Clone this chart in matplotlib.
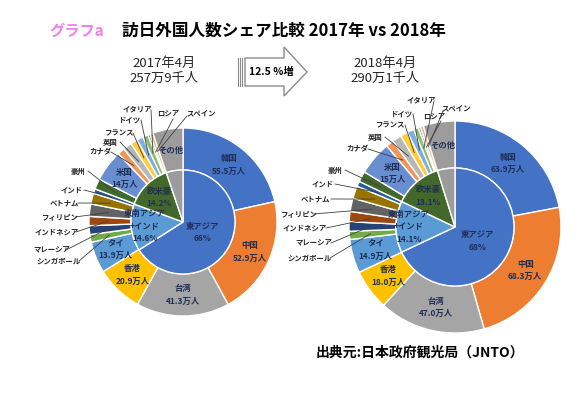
import numpy as np
import matplotlib.pyplot as plt
from matplotlib.patches import Polygon

plt.rcParams['font.family'] = ['Noto Sans CJK JP', 'DejaVu Sans']

# data (万人)
countries = ['韓国', '中国', '台湾', '香港', 'タイ', 'シンガポール', 'マレーシア', 'インドネシア',
             'フィリピン', 'ベトナム', 'インド', '豪州', '米国', 'カナダ', '英国', 'フランス',
             'ドイツ', 'イタリア', 'ロシア', 'スペイン', 'その他']
visitors_2017 = [55.5, 52.9, 41.3, 20.9, 13.9, 3.4, 3.9, 4.1, 5.5, 4.8, 2.0,
                 4.6, 14.0, 3.2, 3.9, 3.1, 2.8, 2.4, 0.9, 1.4, 13.4]
visitors_2018 = [63.9, 68.3, 47.0, 18.0, 14.9, 3.6, 4.2, 4.5, 5.9, 5.5, 2.3,
                 4.7, 15.0, 3.4, 4.1, 3.3, 3.0, 2.2, 0.9, 1.4, 14.0]
regions = ['東アジア', '東南アジア\n+インド', '欧米豪', 'その他']
share_2017 = [66.0, 14.6, 14.2, 5.2]
share_2018 = [68.0, 14.1, 13.1, 4.8]
total_2017 = '257万9千人'
total_2018 = '290万1千人'
growth = 12.5

outer_colors = ['#4472C4', '#ED7D31', '#A5A5A5', '#FFC000', '#5B9BD5', '#70AD47', '#264478',
                '#9E480E', '#636363', '#997300', '#255E91', '#43682B', '#698ED0', '#F1975A',
                '#B7B7B7', '#FFCD33', '#7CAFDD', '#8CC168', '#3A5FA0', '#F4B183', '#9C9C9C']
inner_colors = ['#4472C4', '#5B9BD5', '#43682B', '#9C9C9C']

# wedges that get their label inside
inside = ['韓国', '中国', '台湾', '香港', 'タイ', '米国', 'その他']

# leader label layout: name -> (text centre, line start) in pixels
leaders_2017 = {
    'シンガポール': ((59, 261), (79, 261)),
    'マレーシア': ((52, 250), (66, 250)),
    'インドネシア': ((57, 232), (76, 232)),
    'フィリピン': ((59, 217), (75, 217)),
    'ベトナム': ((64, 203), (78, 203)),
    'インド': ((72, 190), (84, 190)),
    '豪州': ((78, 171), (88, 171)),
    'カナダ': ((100, 152), (111, 152)),
    '英国': ((110, 142), (120, 142)),
    'フランス': ((119, 133), (133, 133)),
    'ドイツ': ((130, 120), (141, 120)),
    'イタリア': ((137, 109), (151, 110)),
    'ロシア': ((168, 114), (173, 119)),
    'スペイン': ((201, 114), (187, 116)),
}
leaders_2018 = {
    'シンガポール': ((310, 258), (330, 258)),
    'マレーシア': ((314, 243), (331, 243)),
    'インドネシア': ((305, 228), (326, 228)),
    'フィリピン': ((298, 214), (313, 214)),
    'ベトナム': ((315, 199), (331, 199)),
    'インド': ((323, 184), (335, 184)),
    '豪州': ((335, 170), (345, 170)),
    'カナダ': ((357, 149), (368, 149)),
    '英国': ((375, 137), (385, 137)),
    'フランス': ((390, 125), (405, 125)),
    'ドイツ': ((402, 114), (413, 114)),
    'イタリア': ((421, 100), (434, 101)),
    'ロシア': ((434, 117), (441, 121)),
    'スペイン': ((456, 109), (443, 111)),
}

W, H = 586, 394


def px(x, y):
    return (x, H - y)


fig = plt.figure(figsize=(W / 100, H / 100), dpi=100)
ax = fig.add_axes([0, 0, 1, 1])

navy = '#1F2F55'


def donut(vals, shares, cx, cy, R, r, leaders, inner_frac):
    c = px(cx, cy)
    wedges, _ = ax.pie(vals, radius=R, center=c, startangle=90, counterclock=False,
                       colors=outer_colors,
                       wedgeprops=dict(width=R - r, edgecolor='white', linewidth=1))
    inner, _ = ax.pie(shares, radius=r, center=c, startangle=90, counterclock=False,
                      colors=inner_colors,
                      wedgeprops=dict(edgecolor='white', linewidth=1))
    rm = (R + r) / 2
    for name, v, w in zip(countries, vals, wedges):
        a = np.deg2rad((w.theta1 + w.theta2) / 2)
        if name in inside:
            if name == 'その他':
                s = name
            elif name == '米国':
                s = f'{name}\n{v:.0f}万人'
            else:
                s = f'{name}\n{v:.1f}万人'
            ax.text(c[0] + rm * np.cos(a), c[1] + rm * np.sin(a), s, ha='center', va='center',
                    fontsize=6, fontweight='bold', color=navy, linespacing=1.5)
        elif name in leaders:
            (tx, ty), (sx, sy) = leaders[name]
            ex = c[0] + (r + 0.55 * (R - r)) * np.cos(a)
            ey = c[1] + (r + 0.55 * (R - r)) * np.sin(a)
            s0 = px(sx, sy)
            ax.plot([s0[0], ex], [s0[1], ey], color='#404040', lw=0.6)
            ax.text(*px(tx, ty), name, ha='center', va='center', fontsize=5.3,
                    fontweight='bold', color='#262626')
    for name, v, w, f in zip(regions, shares, inner, inner_frac):
        if name == 'その他':
            continue
        a = np.deg2rad((w.theta1 + w.theta2) / 2)
        ax.text(c[0] + f * r * np.cos(a), c[1] + f * r * np.sin(a), f'{name}\n{v:g}%',
                ha='center', va='center', fontsize=6, fontweight='bold', color=navy,
                linespacing=1.5)


donut(visitors_2017, share_2017, 183, 222, 94, 52, leaders_2017, [0.42, 0.74, 0.66, 0])
donut(visitors_2018, share_2018, 455, 227, 106, 59, leaders_2018, [0.45, 0.78, 0.70, 0])

# titles
ax.text(*px(77, 31), 'グラフa', ha='center', va='center', fontsize=11, color='#F27FF0',
        fontweight='bold')
ax.text(*px(284, 31), '訪日外国人数シェア比較 2017年 vs 2018年', ha='center', va='center',
        fontsize=12, fontweight='bold', color='black')
ax.text(*px(164, 71), '2017年4月\n' + total_2017, ha='center', va='center', fontsize=9.5,
        color='#262626', linespacing=1.15)
ax.text(*px(385, 71), '2018年4月\n' + total_2018, ha='center', va='center', fontsize=9.5,
        color='#262626', linespacing=1.15)

# block arrow
arrow = Polygon([px(245, 58), px(284, 58), px(284, 47), px(307, 72), px(284, 96),
                 px(284, 86), px(245, 86)], closed=True, facecolor='white',
                edgecolor='#8C8C8C', lw=1)
ax.add_patch(arrow)
for x in [237.5, 239.8, 242.1]:
    ax.plot([x, x], [H - 58, H - 86], color='#8C8C8C', lw=0.8)
ax.text(*px(271, 72), f'{growth} %増', ha='center', va='center', fontsize=7.5,
        fontweight='bold', color='black')

ax.text(*px(420, 353), '出典元:日本政府観光局（JNTO）', ha='center', va='center',
        fontsize=10, fontweight='bold', color='black')

ax.set_xlim(0, W)
ax.set_ylim(0, H)
ax.set_aspect('equal')
ax.axis('off')

fig.savefig('out.png', dpi=100)
